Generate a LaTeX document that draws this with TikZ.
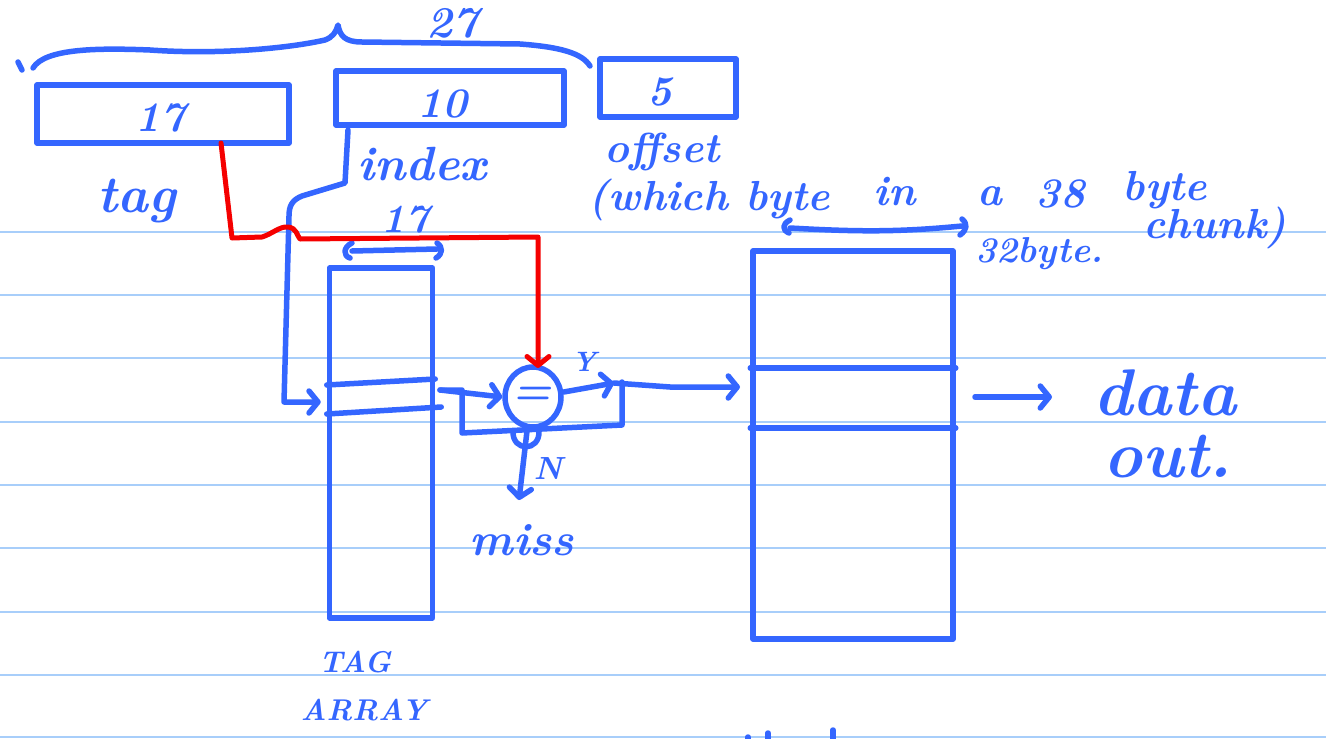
\documentclass[tikz,border=0pt]{standalone}
\usepackage{fontspec}
\usetikzlibrary{shapes.geometric,arrows.meta,calc}
\definecolor{ink}{RGB}{52,102,255}
\definecolor{redink}{RGB}{245,0,0}
\definecolor{paperrule}{RGB}{168,206,250}
\begin{document}
\begin{tikzpicture}[x=1pt,y=-1pt,
  pen/.style={draw=ink,line width=5.5pt,line cap=round,line join=round},
  redpen/.style={draw=redink,line width=5pt,line cap=round,line join=round},
  hw/.style={text=ink,font=\fontsize{#1}{#1}\selectfont\bfseries\itshape,inner sep=0pt},
  box/.style={pen,rectangle,inner sep=0pt},
  chev/.style={-{Straight Barb[length=9pt,width=22pt,round]}},
  paperline/.style={draw=paperrule,line width=1.6pt}]
\useasboundingbox (0,0) rectangle (1326,739);
\fill[white] (0,0) rectangle (1326,739);
% ruled paper
\foreach \yy in {232,295,358,422,485,548,612,675,737}
  \draw[paperline] (0,\yy) -- (1326,\yy);

% top brace
\draw[pen] (18,62) -- (22,70);
\draw[pen] (33,68) .. controls (45,48) and (100,48) .. (150,50)
  .. controls (220,55) and (290,48) .. (325,40)
  .. controls (333,37) and (336,32) .. (338,25)
  .. controls (340,36) and (345,42) .. (362,42)
  -- (520,44) .. controls (560,47) and (582,53) .. (590,66);
\node[hw=44,anchor=base] (n27) at (452,37) {27};

% address fields
\node[box,minimum width=252pt,minimum height=58pt] (tagbox) at (163,114) {};
\node[hw=42] (t17) at (160,118) {17};
\node[box,minimum width=228pt,minimum height=54pt] (idxbox) at (450,98) {};
\node[hw=42] (t10) at (442,104) {10};
\node[box,minimum width=136pt,minimum height=58pt] (offbox) at (668,88) {};
\node[hw=42] (t5) at (660,92) {5};

\node[hw=52,anchor=base] (ltag) at (137,212) {tag};
\node[hw=48,anchor=base] (lindex) at (422,180) {index};
\node[hw=42,anchor=base] (loffset) at (662,162) {offset};
\node[hw=42,anchor=base east] (lwhich) at (830,210) {(which byte};
\node[hw=42,anchor=base] (lin) at (895,205) {in};
\node[hw=42,anchor=base] (la) at (990,205) {a};
\node[hw=42,anchor=base] (l38) at (1060,207) {38};
\node[hw=42,anchor=base] (lbyte) at (1165,200) {byte};
\node[hw=42,anchor=base] (lchunk) at (1215,238) {chunk)};

% tag array
\node[box,minimum width=103pt,minimum height=350pt] (tagarr) at (381,443) {};
\draw[pen] (tagarr.west |- 0,385) -- (tagarr.east |- 0,379);
\draw[pen] (tagarr.west |- 0,414) -- ($(tagarr.east |- 0,407)+(6,0)$);
\node[hw=40,anchor=base] (t17b) at (405,232) {17};
\draw[pen] (352,243) .. controls (343,247) and (343,256) .. (350,258);
\draw[pen] (352,251) -- (437,249);
\draw[pen] (437,243) .. controls (443,247) and (443,254) .. (436,258);
\node[hw=30,anchor=base] (ltagA) at (355,672) {TAG};
\node[hw=30,anchor=base] (ltagB) at (364,720) {ARRAY};

% index line to tag array
\coordinate (idxfoot) at (348,130);
\coordinate (rowin) at ($(tagarr.west |- 0,402)+(-6,0)$);
\draw[pen,chev] (idxfoot) -- (345,183) -- (302,196)
  .. controls (292,200) and (289,206) .. (289,216) -- (284,402) -- (rowin);

% comparator
\node[pen,ellipse,minimum width=56pt,minimum height=60pt,inner sep=0pt] (cmp) at (533,397) {};
\node[hw=44] (eq) at (532,396) {=};
\draw[pen] (513,431) .. controls (512,452) and (540,452) .. (539,431);
\draw[pen] (440,390) -- (462,390) -- (462,433) -- (622,425) -- (622,382);
\draw[pen,chev] (440,390) -- (cmp.west);
\draw[pen,chev] (cmp.east) ++(0,-5) -- (614,383);
\node[hw=28] (lY) at (584,362) {Y};
\draw[pen,chev] (614,383) -- (670,387) -- (740,387);
\draw[pen,chev] (527,431) -- (519,500);
\node[hw=32] (lN) at (548,469) {N};
\node[hw=46,anchor=base] (lmiss) at (522,555) {miss};

% red tag path
\draw[redpen,-{Straight Barb[length=9pt,width=22pt,round]}]
  (221,143) -- (232,238) -- (262,237)
  .. controls (272,234) and (280,226) .. (288,227)
  .. controls (297,228) and (297,236) .. (300,239)
  -- (538,237) -- (538,368);

% data array
\node[box,minimum width=200pt,minimum height=388pt] (datarr) at (853,445) {};
\draw[pen] (datarr.west |- 0,368) -- (datarr.east |- 0,368);
\draw[pen] (datarr.west |- 0,428) -- (datarr.east |- 0,428);
\draw[pen] (790,220) .. controls (782,224) and (782,230) .. (789,233);
\draw[pen] (790,228) .. controls (860,232) and (900,232) .. (962,226);
\draw[pen] (962,219) .. controls (968,224) and (967,230) .. (960,235);
\node[hw=36,anchor=base west] (l32) at (975,262) {32byte.};
\draw[pen,chev] (975,397) -- (1052,397);
\node[hw=66,anchor=base] (ldata) at (1165,415) {data};
\node[hw=66,anchor=base] (lout) at (1168,477) {out.};

% cut-off strokes at bottom edge
\draw[pen] (748,737) -- (748,739);
\draw[pen] (768,733) -- (768,739);
\draw[pen] (833,730) -- (833,739);
\end{tikzpicture}
\end{document}
